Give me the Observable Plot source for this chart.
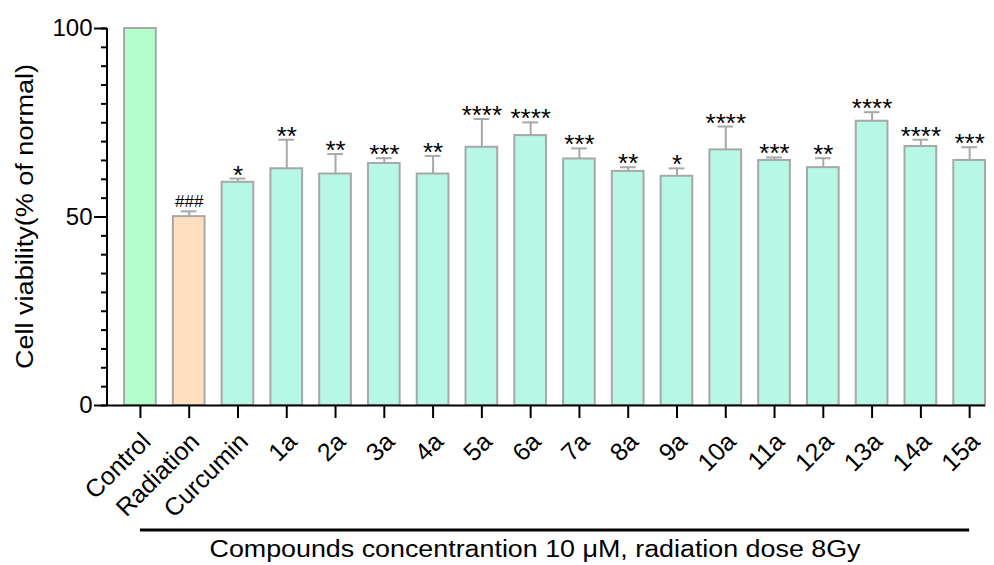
<!DOCTYPE html>
<html>
<head>
<meta charset="utf-8">
<script src="https://cdn.jsdelivr.net/npm/d3@7"></script>
<script src="https://cdn.jsdelivr.net/npm/@observablehq/plot@0.6"></script>
<style>
  body { margin: 0; background: #fff; }
  #chart svg { font-family: "Liberation Sans", Arial, sans-serif; }
</style>
</head>
<body>
<div id="chart"></div>
<script>
const categories = ["Control","Radiation","Curcumin","1a","2a","3a","4a","5a","6a","7a","8a","9a","10a","11a","12a","13a","14a","15a"];
const means = [100, 50.1, 59.2, 62.8, 61.4, 64.2, 61.4, 68.5, 71.6, 65.4, 62.1, 60.8, 67.8, 65.0, 63.1, 75.4, 68.7, 65.0];
const errors = [0, 1.4, 1.0, 7.7, 5.3, 1.4, 4.8, 7.5, 3.5, 2.8, 1.1, 2.1, 6.2, 0.8, 2.5, 2.4, 1.8, 3.5];
const marks = ["", "###", "*", "**", "**", "***", "**", "****", "****", "***", "**", "*", "****", "***", "**", "****", "****", "***"];
const fills = ["#b3ffcb", "#ffdfbf", "#b6f7e6", "#b6f7e6", "#b6f7e6", "#b6f7e6", "#b6f7e6", "#b6f7e6", "#b6f7e6", "#b6f7e6", "#b6f7e6", "#b6f7e6", "#b6f7e6", "#b6f7e6", "#b6f7e6", "#b6f7e6", "#b6f7e6", "#b6f7e6"];
const yMajorTicks = [0, 50, 100];
const yMinorStep = 5;
const yLabel = "Cell viability(% of normal)";
const xLabel = "Compounds concentrantion 10 μM, radiation dose 8Gy";

const data = categories.map((c, i) => ({cat: c, mean: means[i], err: errors[i], top: means[i] + errors[i], sig: marks[i], fill: fills[i]}));
const withErr = data.filter(d => d.err > 0);
const stars = data.filter(d => d.sig.startsWith("*"));
const hashes = data.filter(d => d.sig.startsWith("#"));
const barStroke = "#a8a8a8";

const W = 994, H = 565, ML = 107, MR = 9, MT = 28, MB = 160;

const plot = Plot.plot({
  width: W, height: H,
  marginLeft: ML, marginRight: MR, marginTop: MT, marginBottom: MB,
  style: {fontFamily: "'Liberation Sans', Arial, sans-serif", color: "#000", background: "#fff"},
  x: {domain: categories, paddingInner: 0.35, paddingOuter: 0.175, align: 1, round: false, label: null},
  y: {domain: [0, 100], label: null},
  color: {type: "identity"},
  marks: [
    Plot.ruleX(withErr, {x: "cat", y1: "mean", y2: "top", stroke: barStroke, strokeWidth: 2}),
    Plot.tickY(withErr, {x: "cat", y: "top", insetLeft: 8, insetRight: 8, stroke: barStroke, strokeWidth: 2}),
    Plot.barY(data, {x: "cat", y: "mean", fill: "fill", stroke: barStroke, strokeWidth: 2}),
    Plot.text(stars, {x: "cat", y: "top", text: "sig", fontSize: 26, lineAnchor: "bottom", dy: 5, fill: "#000"}),
    Plot.text(hashes, {x: "cat", y: "top", text: "sig", fontSize: 17, lineAnchor: "bottom", dy: -4, fill: "#000"}),
    Plot.ruleY([0], {stroke: "#000", strokeWidth: 2}),
    Plot.axisY({ticks: d3.range(0, 101, yMinorStep), tickSize: 6, tickFormat: () => "", label: null, strokeWidth: 2}),
    Plot.axisY({ticks: yMajorTicks, tickSize: 13, tickPadding: 2, fontSize: 24, label: null, strokeWidth: 2}),
    Plot.axisX({tickSize: 13, tickFormat: () => "", label: null, strokeWidth: 2}),
    Plot.axisX({tickSize: 0, tickRotate: -45, tickPadding: 32, dx: 6, fontSize: 25, label: null})
  ]
});

document.getElementById("chart").appendChild(plot);

const svg = d3.select(plot);
const sx = plot.scale("x");
const sy = plot.scale("y");
const bw = sx.bandwidth;
// y axis line
svg.append("line")
  .attr("x1", ML).attr("x2", ML)
  .attr("y1", sy.apply(0) + 1).attr("y2", sy.apply(100))
  .attr("stroke", "#000").attr("stroke-width", 2);
// y label
svg.append("text")
  .attr("transform", `translate(33,${(sy.apply(0) + sy.apply(100)) / 2}) rotate(-90)`)
  .attr("text-anchor", "middle")
  .attr("font-size", 23)
  .attr("textLength", 305)
  .attr("lengthAdjust", "spacingAndGlyphs")
  .attr("fill", "#000")
  .text(yLabel);
// bracket line under categories
const xa = sx.apply(categories[0]) + bw / 2;
const xb = sx.apply(categories[categories.length - 1]) + bw / 2;
svg.append("line")
  .attr("x1", xa).attr("x2", xb)
  .attr("y1", 530).attr("y2", 530)
  .attr("stroke", "#000").attr("stroke-width", 3);
svg.append("text")
  .attr("x", 535).attr("y", 557)
  .attr("text-anchor", "middle")
  .attr("font-size", 23)
  .attr("textLength", 651)
  .attr("lengthAdjust", "spacingAndGlyphs")
  .attr("fill", "#000")
  .text(xLabel);
</script>
</body>
</html>
